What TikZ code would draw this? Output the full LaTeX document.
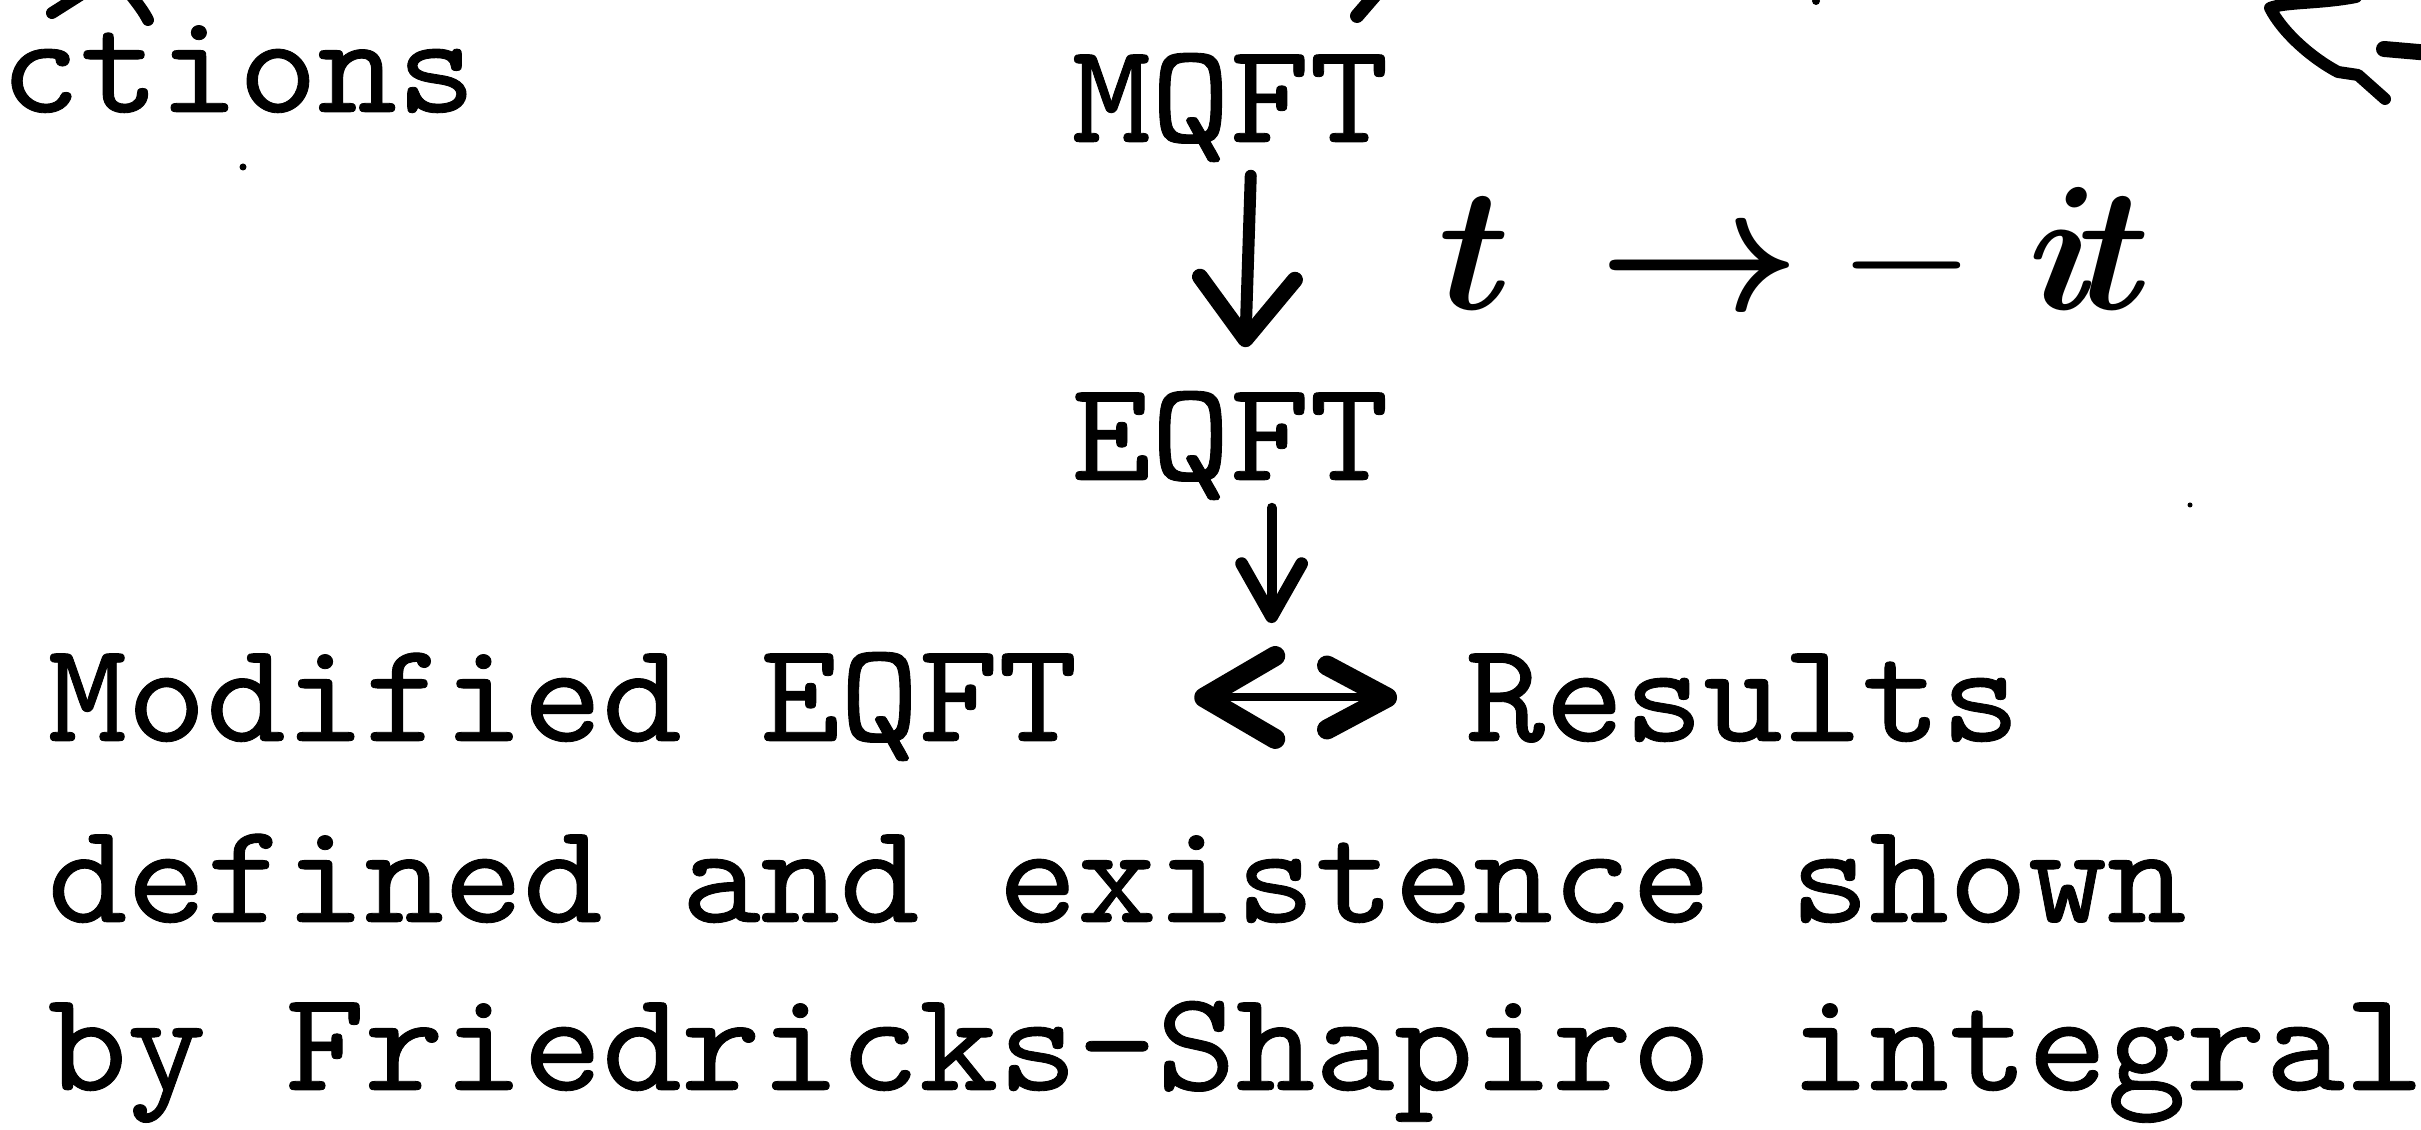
\RequirePackage{fix-cm}
\documentclass[tikz,border=0pt]{standalone}
\usepackage{fontspec}
\setmonofont[FakeBold=0.6]{lmmono10-regular.otf}
\usepackage{graphicx}
\usetikzlibrary{arrows.meta,calc}
\newcommand{\twtext}[1]{\scalebox{1.055}[1]{\fontsize{35.75}{40}\selectfont\ttfamily #1}}
\newcommand{\glyphcell}[2]{\hbox to #1{#2\hss}}
\tikzset{
  tw/.style={inner sep=0pt, anchor=base west, text height=21.75pt, text depth=0pt},
  lbl/.style={inner sep=0pt, anchor=base west, font=\fontsize{44}{50}\selectfont},
  pen/.style={line width=3pt, line cap=round, line join=round},
  harrowA/.style={line width=3pt, line cap=round,
    -{Straight Barb[round, length=15.25pt, width=23.75pt, line width=4pt]},
    shorten <=8.25pt, shorten >=11.25pt},
  harrowB/.style={line width=2.5pt, line cap=round,
    -{Straight Barb[round, length=13.25pt, width=15pt, line width=3.2pt]},
    shorten <=6.75pt, shorten >=18.6pt},
  hdouble/.style={line width=2pt,
    {Straight Barb[round, length=17.75pt, width=20.75pt, line width=5pt]}-{Straight Barb[round, length=15pt, width=16pt, line width=5pt]},
    shorten <=29pt, shorten >=17pt}
}
\begin{document}
\begin{tikzpicture}[x=0.25pt, y=-0.25pt]
  \fill[white] (0,0) rectangle (2421,1130);
  \useasboundingbox (0,0) rectangle (2421,1130);

  % typed text
  \node[tw] (ctions) at (0,112) {\twtext{ctions}};
  \node[tw] (mqft) at (1071,142) {\twtext{MQFT}};
  \node[tw] (eqft) at (1071,480) {\twtext{EQFT}};
  \node[tw] (mod) at (47,741) {\twtext{Modified EQFT}};
  \node[tw] (res) at (1465,741) {\twtext{Results}};
  \node[tw] (line2) at (47,922) {\twtext{defined and existence shown}};
  \node[tw] (line3) at (47,1090) {\twtext{by Friedricks-Shapiro integral}};

  % handwritten label
  \node[lbl] (tmap) at (1438,310) {\glyphcell{40pt}{{\boldmath$t$}}\glyphcell{60pt}{{\boldmath$\rightarrow$}}\glyphcell{47.5pt}{$-$}\glyphcell{12.5pt}{{\boldmath$i$}}{\boldmath$t$}};

  % connectors
  \coordinate (dmid) at ($(mod.east)!0.5!(res.west)$);
  \draw[harrowA] ([xshift=5.4pt]mqft.south) -- ([xshift=3.4pt]eqft.north);
  \draw[harrowB] (eqft.south -| dmid) -- (dmid);
  \draw[hdouble] (mod.east) -- (res.west);

  % stray marks of the scan
  \fill (243,167) circle (3.5);
  \fill (2190,505) circle (2.5);
  \fill (1816,1) circle (4);
  \draw[pen] (82,-6) -- (52,13);
  \draw[pen] (130,-6) .. controls (138,4) and (144,12) .. (148,20);
  \draw[pen, line width=3.5pt] (1376,-6) -- (1357,16);
  \draw[pen] (2356,-3) .. controls (2320,4) and (2285,2) .. (2270,8)
     .. controls (2284,35) and (2315,60) .. (2338,72) -- (2358,75) -- (2385,99);
  \draw[pen, line width=4pt] (2384,49) -- (2430,53);
\end{tikzpicture}
\end{document}
